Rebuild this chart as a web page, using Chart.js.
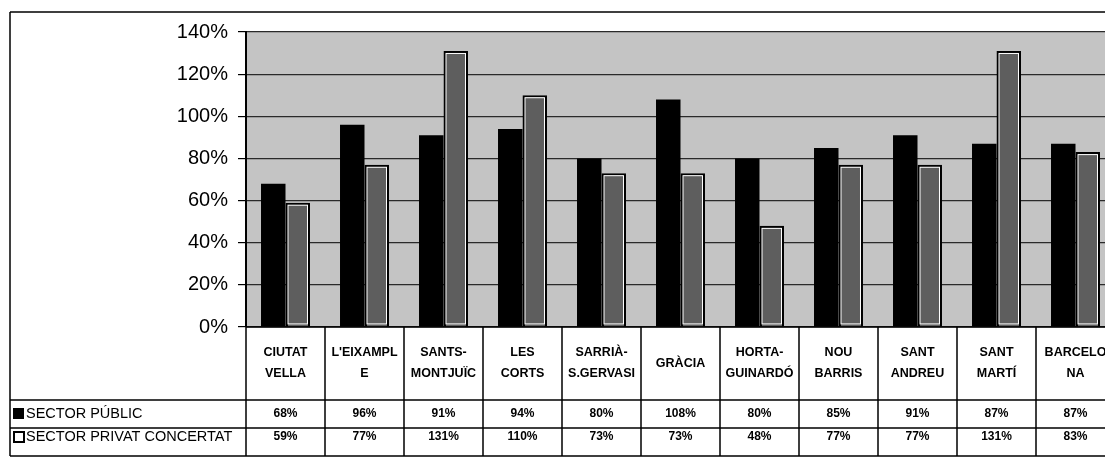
<!DOCTYPE html>
<html>
<head>
<meta charset="utf-8">
<script src="https://cdn.jsdelivr.net/npm/chart.js@4.4.1/dist/chart.umd.min.js"></script>
<style>
  html, body { margin: 0; padding: 0; background: #fff; overflow: hidden; }
  canvas { display: block; }
</style>
</head>
<body>
<canvas id="chart" width="1125" height="457" style="width:1125px;height:457px"></canvas>
<script>
// districts (label lines as printed in the table)
const districts = [
  ['CIUTAT', 'VELLA'], ["L'EIXAMPL", 'E'], ['SANTS-', 'MONTJUÏC'], ['LES', 'CORTS'],
  ['SARRIÀ-', 'S.GERVASI'], ['GRÀCIA'], ['HORTA-', 'GUINARDÓ'], ['NOU', 'BARRIS'],
  ['SANT', 'ANDREU'], ['SANT', 'MARTÍ'], ['BARCELO', 'NA']
];
const seriesNames = ['SECTOR PÚBLIC', 'SECTOR PRIVAT CONCERTAT'];
const publicPct = [68, 96, 91, 94, 80, 108, 80, 85, 91, 87, 87];
const privatePct = [59, 77, 131, 110, 73, 73, 48, 77, 77, 131, 83];
const yTicks = [0, 20, 40, 60, 80, 100, 120, 140];

const FONT = '"Liberation Sans", Arial, sans-serif';

// plot background, inner white line on the private bars, and the data table underneath
const tablePlugin = {
  id: 'tablePlugin',
  beforeDraw(chart) {
    const { ctx, chartArea: a } = chart;
    ctx.save();
    ctx.fillStyle = '#c4c4c4';
    ctx.fillRect(a.left, a.top, a.right - a.left, a.bottom - a.top);
    ctx.restore();
  },
  afterDatasetsDraw(chart) {
    const { ctx } = chart;
    ctx.save();
    ctx.strokeStyle = '#fff';
    ctx.lineWidth = 1;
    chart.getDatasetMeta(1).data.forEach(bar => {
      const l = bar.x - bar.width / 2 + 2.5, r = bar.x + bar.width / 2 - 2.5;
      ctx.strokeRect(l, bar.y + 2.5, r - l, bar.base - bar.y - 5);
    });
    ctx.restore();
  },
  afterDraw(chart) {
    const { ctx, chartArea: a } = chart;
    const n = districts.length;
    const w = (a.right - a.left) / n;
    const leftX = 10, topY = 12;
    const rows = [a.bottom, 400, 428, 456];
    ctx.save();
    ctx.strokeStyle = '#000';
    ctx.lineWidth = 1.5;
    ctx.beginPath();
    // outer frame
    ctx.moveTo(leftX, topY); ctx.lineTo(chart.width, topY);
    ctx.moveTo(leftX, topY); ctx.lineTo(leftX, rows[3]);
    // horizontal rows
    ctx.moveTo(a.left, rows[0]); ctx.lineTo(a.right, rows[0]);
    for (let r = 1; r < rows.length; r++) {
      ctx.moveTo(leftX, rows[r]); ctx.lineTo(a.right, rows[r]);
    }
    // column lines
    for (let i = 0; i <= n; i++) {
      const x = a.left + i * w;
      ctx.moveTo(x, rows[0]); ctx.lineTo(x, rows[3]);
    }
    ctx.stroke();

    ctx.fillStyle = '#000';
    ctx.textAlign = 'center';
    ctx.textBaseline = 'middle';
    ctx.font = 'bold 12.5px ' + FONT;
    districts.forEach((lines, i) => {
      const cx = chart.scales.x.getPixelForValue(i);
      const mid = (rows[0] + rows[1]) / 2;
      lines.forEach((t, k) => {
        ctx.fillText(t, cx, mid + (k - (lines.length - 1) / 2) * 21);
      });
    });

    ctx.font = 'bold 12px ' + FONT;
    const rowY = [414, 437];
    [publicPct, privatePct].forEach((vals, s) => {
      vals.forEach((v, i) => {
        ctx.fillText(v + '%', chart.scales.x.getPixelForValue(i), rowY[s]);
      });
    });

    // legend keys + names
    ctx.textAlign = 'left';
    ctx.font = '14.5px ' + FONT;
    seriesNames.forEach((name, s) => {
      const y = rowY[s];
      if (s === 0) {
        ctx.fillRect(13, y - 6, 11, 11);
      } else {
        ctx.lineWidth = 2;
        ctx.strokeRect(14, y - 5, 10, 10);
      }
      ctx.fillText(name, 26, y);
    });
    ctx.restore();
  }
};

new Chart(document.getElementById('chart'), {
  type: 'bar',
  data: {
    labels: districts,
    datasets: [
      {
        label: seriesNames[0],
        data: publicPct,
        backgroundColor: '#000',
        borderColor: '#000',
        borderWidth: 0
      },
      {
        label: seriesNames[1],
        data: privatePct,
        backgroundColor: '#5e5e5e',
        borderColor: '#000',
        borderWidth: 2.5
      }
    ]
  },
  options: {
    responsive: false,
    animation: false,
    devicePixelRatio: 1,
    layout: { padding: { left: 0, top: 32, right: 10, bottom: 130 } },
    datasets: { bar: { categoryPercentage: 0.62, barPercentage: 1.0 } },
    plugins: {
      legend: { display: false },
      tooltip: { enabled: false }
    },
    scales: {
      x: { display: false, offset: true },
      y: {
        min: 0, max: 140,
        afterBuildTicks: s => { s.ticks = yTicks.map(v => ({ value: v })); },
        afterFit: s => { s.width = 246; },
        border: { color: '#000', width: 2 },
        grid: { color: '#2a2a2a', lineWidth: 1.2, tickLength: 8, tickColor: '#000' },
        ticks: {
          padding: 10,
          color: '#000',
          font: { family: FONT, size: 20 },
          callback: v => v + '%'
        }
      }
    }
  },
  plugins: [tablePlugin]
});
</script>
</body>
</html>
